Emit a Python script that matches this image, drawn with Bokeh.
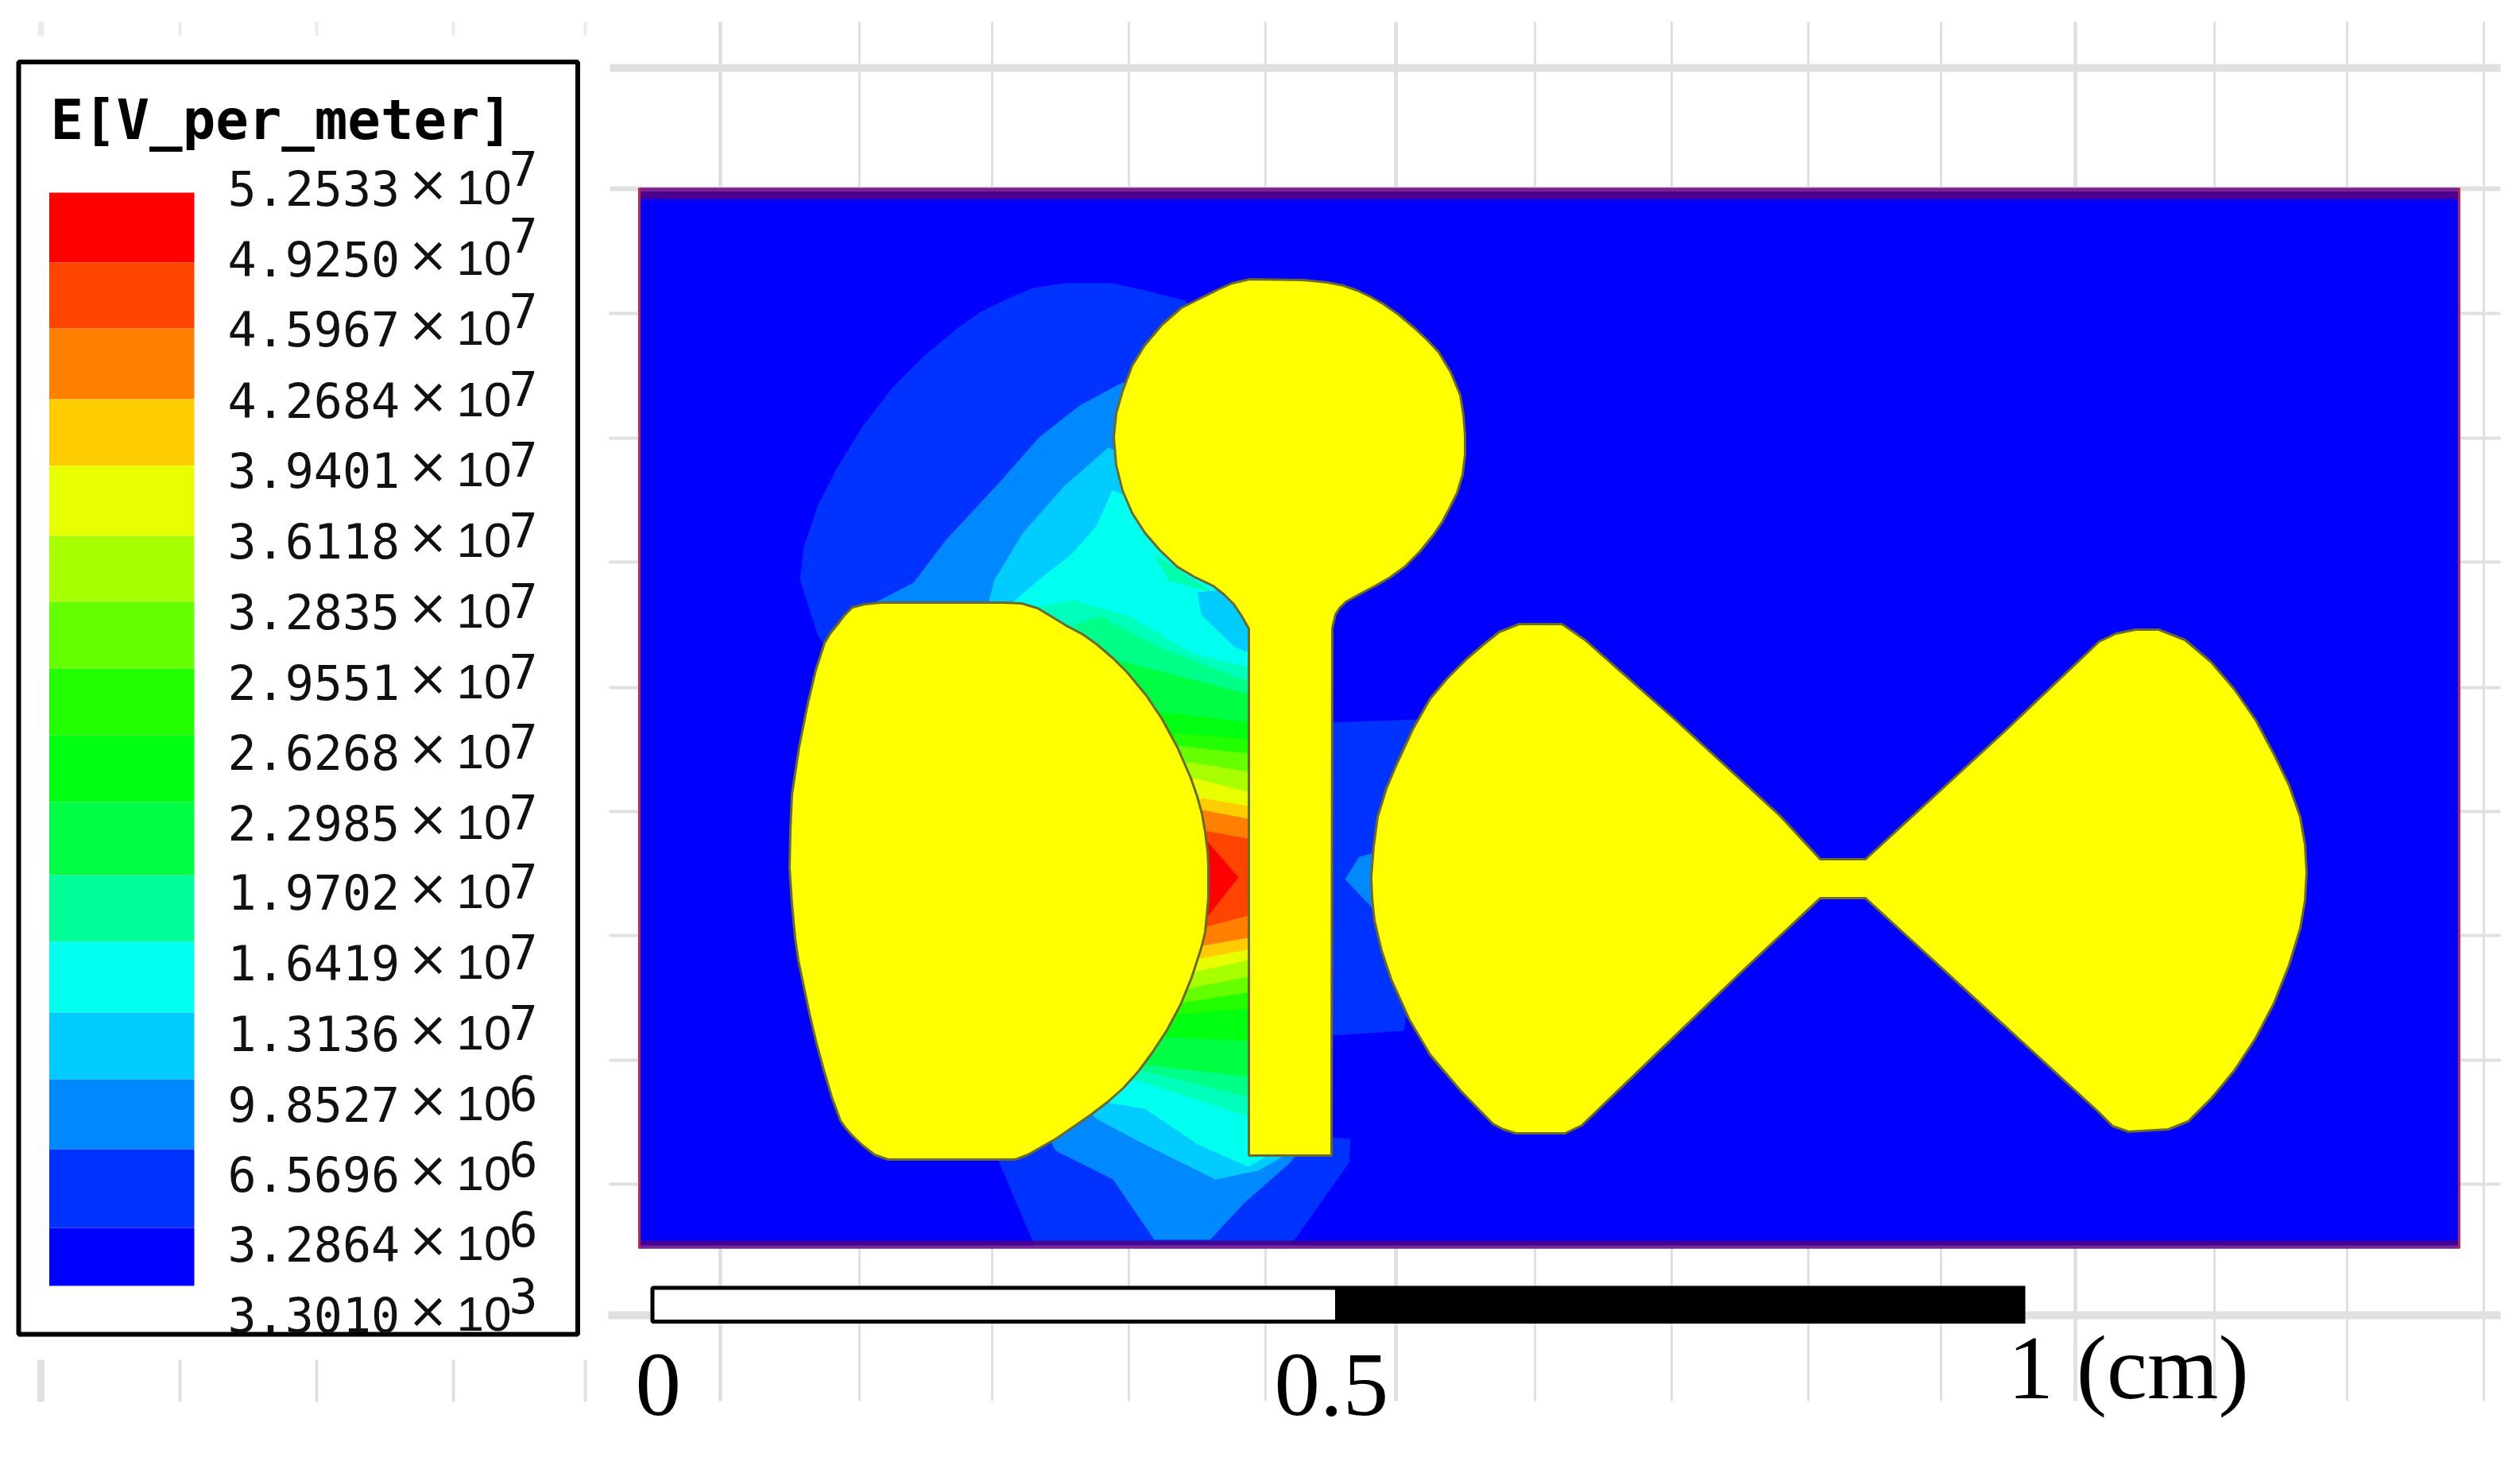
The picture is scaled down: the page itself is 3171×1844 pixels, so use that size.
from bokeh.plotting import figure
from bokeh.models import Range1d
from bokeh.core.properties import value
from bokeh.embed import file_html
from bokeh.resources import INLINE

# ---------- legend data ----------
legend_title = "E[V_per_meter]"
level_labels = ["5.2533", "4.9250", "4.5967", "4.2684", "3.9401", "3.6118", "3.2835", "2.9551", "2.6268",
                "2.2985", "1.9702", "1.6419", "1.3136", "9.8527", "6.5696", "3.2864", "3.3010"]
level_exponents = ["7", "7", "7", "7", "7", "7", "7", "7", "7", "7", "7", "7", "7", "6", "6", "6", "3"]
exponent_lift = [25, 30, 23, 15, 14, 14, 14, 14, 14, 14, 14, 14, 14, 14, 19, 19, 24]
label_baselines = [255, 344, 432, 522, 610, 699, 788, 877, 965, 1054, 1141, 1230, 1319, 1408, 1496, 1584, 1673]
band_colors = ["#ff0000", "#ff4400", "#ff8000", "#ffcc00", "#e8ff00", "#a8ff00", "#66ff00", "#22ff00",
               "#00ff11", "#00ff44", "#00ff99", "#00ffee", "#00ccff", "#0088ff", "#0033ff", "#0000ff"]
band_edges = [242, 330, 413, 502, 586, 674, 757, 841, 925, 1009, 1101, 1185, 1274, 1358, 1446, 1545, 1618]

# ---------- background grid (light grey, behind the field plot) ----------
major_v = [906, 1756, 2611]
minor_v = [1081, 1248, 1420, 1592, 1931, 2103, 2275, 2442, 2786, 2953, 3125]
left_ticks = [51, 226, 398, 570, 736]
thin_h = [394, 551, 707, 865, 1021, 1177, 1334, 1490]

# ---------- field contour regions: (colour, [(x, y), ...]) lowest level first ----------
field_regions = [
    ("#0033ff", [(1100, 900), (1029, 800), (1006, 729), (1011, 688), (1028, 637), (1052, 590), (1085, 536), (1123, 487),
                 (1163, 447), (1205, 412), (1234, 392), (1266, 376), (1300, 362), (1338, 356), (1399, 356), (1440, 365),
                 (1491, 378), (1600, 500), (1600, 1100), (1200, 1100)]),
    ("#0033ff", [(1200, 1300), (1257, 1463), (1297, 1557), (1302, 1568), (1623, 1568), (1697, 1463), (1699, 1433),
                 (1640, 1430), (1600, 1100), (1200, 1100)]),
    ("#0033ff", [(1640, 910), (1784, 905), (1800, 1100), (1766, 1297), (1640, 1305)]),
    ("#0088ff", [(1093, 762), (1149, 733), (1190, 679), (1256, 608), (1307, 550), (1358, 510), (1412, 481), (1640, 600),
                 (1640, 1440), (1623, 1463), (1565, 1514), (1522, 1560), (1452, 1560), (1400, 1484), (1328, 1448),
                 (1250, 1300), (1150, 900)]),
    ("#0088ff", [(1692, 1106), (1710, 1078), (1740, 1070), (1740, 1145), (1726, 1142)]),
    ("#00ccff", [(1243, 760), (1251, 729), (1287, 670), (1338, 612), (1394, 563), (1500, 600), (1640, 700), (1640, 1440),
                 (1583, 1473), (1529, 1484), (1436, 1438), (1378, 1407), (1300, 1300), (1250, 900)]),
    ("#00ffee", [(1271, 760), (1307, 729), (1348, 697), (1379, 662), (1399, 617), (1500, 650), (1640, 700), (1620, 1440),
                 (1570, 1468), (1507, 1440), (1440, 1395), (1391, 1387), (1300, 1300), (1280, 900)]),
    ("#00ffaa", [(1420, 640), (1470, 730), (1525, 745), (1450, 695)]),
    ("#00ccff", [(1506, 745), (1511, 773), (1552, 813), (1567, 820), (1590, 800), (1560, 740)]),
    ("#00ffbb", [(1297, 765), (1350, 755), (1420, 775), (1500, 822), (1565, 838), (1640, 838), (1640, 1405), (1570, 1405),
                 (1427, 1358), (1300, 1300), (1290, 900)]),
    ("#00ff88", [(1340, 790), (1384, 775), (1460, 815), (1565, 855), (1640, 855), (1640, 1380), (1570, 1380),
                 (1427, 1345), (1300, 1300)]),
    ("#00ff44", [(1405, 830), (1567, 872), (1640, 880), (1640, 1355), (1570, 1355), (1440, 1340), (1300, 1200), (1300, 900)]),
    ("#00ff11", [(1455, 895), (1567, 908), (1640, 915), (1640, 1310), (1570, 1310), (1467, 1305), (1350, 1200), (1350, 950)]),
    ("#22ff00", [(1478, 922), (1570, 930), (1640, 930), (1640, 1269), (1570, 1269), (1476, 1277), (1400, 1100)]),
    ("#66ff00", [(1483, 938), (1570, 948), (1640, 948), (1640, 1249), (1570, 1249), (1483, 1262), (1400, 1100)]),
    ("#a8ff00", [(1494, 958), (1570, 971), (1640, 971), (1640, 1229), (1570, 1229), (1494, 1244), (1400, 1100)]),
    ("#e8ff00", [(1503, 979), (1570, 996), (1640, 996), (1640, 1208), (1570, 1208), (1503, 1223), (1400, 1100)]),
    ("#ffcc00", [(1512, 1004), (1570, 1014), (1640, 1014), (1640, 1195), (1570, 1195), (1510, 1206), (1400, 1100)]),
    ("#ff8000", [(1512, 1019), (1570, 1030), (1640, 1030), (1640, 1180), (1570, 1180), (1512, 1190), (1400, 1100)]),
    ("#ff4400", [(1514, 1045), (1570, 1055), (1640, 1055), (1640, 1152), (1570, 1152), (1514, 1167), (1400, 1100)]),
    ("#ff0000", [(1500, 1060), (1520, 1060), (1558, 1104), (1520, 1152), (1500, 1152)]),
]

# ---------- conductor outlines ----------
shape_d = [(1108, 758), (1262, 758), (1285, 759), (1305, 765), (1325, 777), (1343, 788), (1362, 798), (1379, 810), (1400, 828), (1418, 846),
           (1442, 875), (1462, 905), (1481, 940), (1498, 979), (1506, 1002), (1512, 1024), (1516, 1047), (1519, 1070),
           (1520, 1088), (1520, 1106), (1520, 1130), (1518, 1152), (1516, 1173), (1511, 1193), (1499, 1230),
           (1485, 1264), (1468, 1296), (1449, 1325), (1432, 1348), (1413, 1369), (1394, 1386), (1373, 1402),
           (1350, 1418), (1328, 1433), (1293, 1453), (1277, 1459), (1117, 1459), (1100, 1453), (1086, 1442),
           (1073, 1430), (1064, 1420), (1057, 1410), (1046, 1380), (1036, 1346), (1027, 1313), (1018, 1275),
           (1010, 1237), (1004, 1208), (1000, 1180), (996, 1137), (993, 1092), (994, 1046), (996, 1000), (1005, 940),
           (1016, 885), (1026, 843), (1037, 809), (1044, 797), (1052, 787), (1062, 774), (1072, 764), (1088, 760)]
shape_stem = [(1572, 351), (1640, 352), (1670, 355), (1690, 359), (1707, 365), (1724, 373), (1740, 382), (1760, 396),
              (1780, 413), (1796, 428), (1810, 443), (1825, 468), (1837, 497), (1841, 522), (1843, 547), (1843, 572),
              (1840, 597), (1833, 620), (1823, 640), (1814, 657), (1803, 673), (1786, 694), (1767, 713), (1749, 726),
              (1730, 737), (1711, 747), (1693, 757), (1685, 765), (1680, 773), (1676, 790), (1675, 1454), (1571, 1454),
              (1571, 791), (1562, 775), (1552, 760), (1540, 748), (1526, 737), (1503, 726), (1481, 713), (1459, 692),
              (1440, 670), (1424, 645), (1412, 617), (1404, 585), (1401, 550), (1404, 520), (1412, 492), (1424, 460),
              (1440, 434), (1462, 408), (1486, 387), (1508, 376), (1532, 364), (1550, 356)]
shape_bowtie = [(1911, 785), (1965, 785), (1994, 805), (2106, 904), (2239, 1026), (2290, 1081), (2347, 1081), (2421, 1013),
                (2521, 921), (2641, 807), (2662, 797), (2687, 792), (2716, 792), (2749, 805), (2782, 833), (2811, 867),
                (2838, 906), (2861, 949), (2880, 988), (2894, 1028), (2900, 1063), (2902, 1098), (2900, 1133),
                (2894, 1168), (2880, 1214), (2861, 1262), (2838, 1306), (2811, 1347), (2783, 1381), (2753, 1411),
                (2728, 1421), (2678, 1424), (2658, 1417), (2640, 1399), (2347, 1130), (2290, 1130), (2197, 1217),
                (1990, 1416), (1969, 1426), (1907, 1426), (1891, 1421), (1878, 1414), (1838, 1373), (1799, 1327),
                (1773, 1283), (1750, 1232), (1738, 1196), (1729, 1158), (1726, 1130), (1725, 1103), (1728, 1065),
                (1733, 1028), (1744, 992), (1758, 959), (1777, 918), (1799, 879), (1821, 853), (1845, 829), (1866, 811),
                (1886, 795)]

# ---------- scale bar ----------
scale_labels = ["0", "0.5", "1 (cm)"]
scale_label_x = [799, 1603, 2526]
scale_label_y = [1780, 1780, 1758]

BASELINE_K = 0.32  # the renderer sets text this fraction of the size below the requested baseline


def up(ys, size):
    return [y - BASELINE_K * size for y in ys]


p = figure(width=3155, height=1828, x_range=Range1d(0, 3155), y_range=Range1d(1828, 0),
           output_backend="svg", toolbar_location=None, min_border=0, x_axis_type=None, y_axis_type=None,
           outline_line_color=None, background_fill_color="white", border_fill_color="white")
p.grid.visible = False

GRID = "#e0e0e0"
# grid
p.segment(x0=major_v, y0=[27] * 3, x1=major_v, y1=[1763] * 3, line_color=GRID, line_width=5)
p.segment(x0=minor_v, y0=[27] * 11, x1=minor_v, y1=[1763] * 11, line_color=GRID, line_width=3)
p.segment(x0=left_ticks, y0=[27] * 5, x1=left_ticks, y1=[45] * 5, line_color="#ececec", line_width=[8, 4, 4, 4, 4])
p.segment(x0=left_ticks, y0=[1711] * 5, x1=left_ticks, y1=[1764] * 5, line_color=GRID, line_width=[9, 4, 4, 4, 4])
p.segment(x0=[766] * 8, y0=thin_h, x1=[3146] * 8, y1=thin_h, line_color=GRID, line_width=4)
p.segment(x0=[767, 767], y0=[85, 237], x1=[3146, 3146], y1=[85, 237], line_color=GRID, line_width=[10, 6])
p.segment(x0=[765], y0=[1655], x1=[3146], y1=[1655], line_color=GRID, line_width=10)

# legend box
p.quad(left=[23], right=[726.5], top=[77.5], bottom=[1679], fill_color="white", line_color="black", line_width=6)
p.quad(left=[61.5] * 16, right=[244] * 16, top=band_edges[:-1], bottom=band_edges[1:], fill_color=band_colors, line_color=None)
p.text(x=[63], y=up([173], 69), text=[legend_title], text_font=value("DejaVu Sans Mono"), text_font_style="bold",
       text_font_size="69px", text_color="black", text_baseline="alphabetic", text_align="left")
n = len(level_labels)
p.text(x=[286] * n, y=up(label_baselines, 60), text=level_labels, text_font=value("DejaVu Sans Mono"),
       text_font_size="60px", text_color="#111111", text_baseline="alphabetic", text_align="left")
p.text(x=[538] * n, y=up([b - 4 for b in label_baselines], 62), text=["×"] * n, text_font=value("DejaVu Sans"),
       text_font_size="62px", text_color="#111111", text_baseline="alphabetic", text_align="center")
p.text(x=[574] * n, y=up(label_baselines, 62), text=["10"] * n, text_font=value("Liberation Sans"),
       text_font_size="62px", text_color="#111111", text_baseline="alphabetic", text_align="left")
p.text(x=[640] * n, y=up([b - d for b, d in zip(label_baselines, exponent_lift)], 60), text=level_exponents,
       text_font=value("DejaVu Sans Mono"), text_font_size="60px", text_color="#111111",
       text_baseline="alphabetic", text_align="left")

# field
p.quad(left=[804], right=[3094], top=[236], bottom=[1571], fill_color="#0000ff", line_color=None)
for color, pts in field_regions:
    p.patch(x=[a for a, _ in pts], y=[b for _, b in pts], fill_color=color, line_color=None)

# conductors
for pts in (shape_d, shape_stem, shape_bowtie):
    p.patch(x=[a for a, _ in pts], y=[b for _, b in pts], fill_color="#ffff00", line_color="#6a6a30", line_width=3)

# field frame
p.quad(left=[804] * 5, right=[3094] * 5, top=[236, 241, 250, 1561, 1567], bottom=[241, 250, 254, 1567, 1571],
       fill_color=["#86207e", "#4a008e", "#1800e8", "#4e0084", "#8a2a80"],
       fill_alpha=[1, 1, 0.8, 0.85, 0.9], line_color=None)
p.segment(x0=[804, 3094], y0=[236, 236], x1=[804, 3094], y1=[1571, 1571], line_color="#c02848", line_width=3)

# scale bar
p.quad(left=[820.5, 1682], right=[1682, 2548], top=[1620.5, 1618], bottom=[1663, 1665.5],
       fill_color=["white", "black"], line_color=["black", None], line_width=5)
p.text(x=scale_label_x, y=up(scale_label_y, 115), text=scale_labels, text_font=value("Liberation Serif"),
       text_font_size="115px", text_color="black", text_baseline="alphabetic", text_align="left")

open("out.html", "w").write(file_html(p, INLINE))
